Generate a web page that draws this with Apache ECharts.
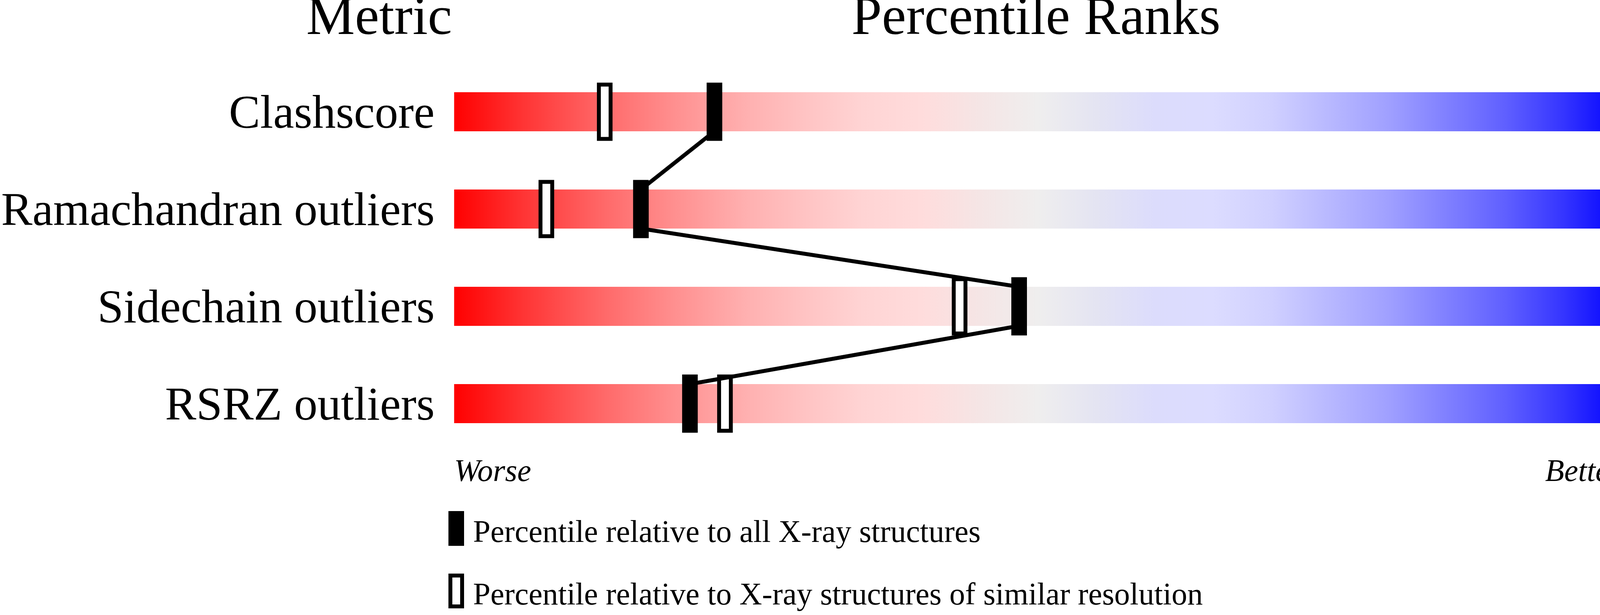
<!DOCTYPE html>
<html lang="en">
<head>
  <meta charset="UTF-8">
  <script src="https://cdn.jsdelivr.net/npm/echarts@6/dist/echarts.min.js"></script>
  <title>Percentile Ranks</title>
  <style>
    * { margin: 0; padding: 0; }
    html, body { width: 100%; height: 100%; background: #fff; }
    #chart { width: 4485px; height: 1574px; }
  </style>
</head>
<body>
<div id="chart"></div>
<script>
  // metrics and their values
  var metrics = ['Clashscore', 'Ramachandran outliers', 'Sidechain outliers', 'RSRZ outliers'];
  var metricValues = ['11', '0.8%', '2.0%', '7.5%'];
  // percentile ranks (0 = worse, 100 = better)
  var pctAll = [22.3, 16.0, 48.4, 20.2];
  var pctSimilar = [12.9, 7.9, 43.3, 23.2];
  var barFull = [100, 100, 100, 100];
  var endLabels = ['Worse', 'Better'];
  var legendNames = [
    'Percentile relative to all X-ray structures',
    'Percentile relative to X-ray structures of similar resolution'
  ];

  var FONT = "'Liberation Serif', 'Times New Roman', serif";

  // line segments between consecutive "all" markers
  var linkData = [];
  for (var i = 0; i < pctAll.length - 1; i++) {
    linkData.push([pctAll[i], i, pctAll[i + 1], i + 1]);
  }

  var slider = new echarts.graphic.LinearGradient(0, 0, 1, 0, [
    { offset: 0, color: '#ff0000' },
    { offset: 0.06, color: '#ff3535' },
    { offset: 0.13, color: '#ff6a6a' },
    { offset: 0.19, color: '#ff9090' },
    { offset: 0.25, color: '#ffb0b0' },
    { offset: 0.3, color: '#ffc3c3' },
    { offset: 0.35, color: '#ffd4d4' },
    { offset: 0.4, color: '#ffdcdc' },
    { offset: 0.45, color: '#f5e5e5' },
    { offset: 0.5, color: '#efeeee' },
    { offset: 0.55, color: '#e4e4f2' },
    { offset: 0.6, color: '#dcdcfc' },
    { offset: 0.65, color: '#dcdcff' },
    { offset: 0.7, color: '#d0d0ff' },
    { offset: 0.75, color: '#b8b8ff' },
    { offset: 0.8, color: '#a0a0ff' },
    { offset: 0.85, color: '#8080ff' },
    { offset: 0.9, color: '#6060ff' },
    { offset: 0.95, color: '#3535ff' },
    { offset: 1, color: '#0000ff' }
  ]);

  var chart = echarts.init(document.getElementById('chart'));

  var option = {
    backgroundColor: '#fff',
    animation: false,
    grid: { left: 1153, right: 334, top: 161.5, bottom: 416.5 },
    graphic: [
      { type: 'text', x: 784, y: 50,
        style: { text: 'Metric', fontSize: 140, fontFamily: FONT, fill: '#000',
                 align: 'left', verticalAlign: 'middle', textAlign: 'left', textVerticalAlign: 'middle' } },
      { type: 'text', x: 2652, y: 50,
        style: { text: 'Percentile Ranks', fontSize: 140, fontFamily: FONT, fill: '#000',
                 align: 'center', verticalAlign: 'middle', textAlign: 'center', textVerticalAlign: 'middle' } },
      { type: 'text', x: 4153, y: 50,
        style: { text: 'Value', fontSize: 140, fontFamily: FONT, fill: '#000',
                 align: 'left', verticalAlign: 'middle', textAlign: 'left', textVerticalAlign: 'middle' } }
    ],
    legend: {
      orient: 'vertical',
      left: 1148,
      top: 1308,
      padding: 0,
      itemWidth: 40,
      itemHeight: 89,
      itemGap: 62,
      selectedMode: false,
      formatter: function (name) { return '{s| }{t|' + name + '}'; },
      textStyle: {
        color: '#000',
        rich: {
          s: { width: 18, lineHeight: 107, fontSize: 80, fontFamily: FONT },
          t: { fontSize: 80, lineHeight: 80, fontFamily: FONT, color: '#000', verticalAlign: 'bottom' }
        }
      },
      data: [
        { name: legendNames[0], icon: 'rect', itemStyle: { color: '#000', borderWidth: 0 } },
        { name: legendNames[1], icon: 'path://M0,0H40V89H0Z M10,10V79H30V10Z',
          itemStyle: { color: '#000', borderWidth: 0 } }
      ]
    },
    xAxis: {
      type: 'value',
      min: 0,
      max: 100,
      interval: 100,
      splitLine: { show: false },
      axisLine: { show: false },
      axisTick: { show: false },
      axisLabel: {
        formatter: function (v) { return v === 0 ? endLabels[0] : endLabels[1]; },
        fontStyle: 'italic',
        fontSize: 80,
        fontFamily: FONT,
        color: '#000',
        margin: 12,
        alignMinLabel: 'left',
        alignMaxLabel: 'right'
      }
    },
    yAxis: [
      {
        type: 'category',
        data: metrics,
        inverse: true,
        axisLine: { show: false },
        axisTick: { show: false },
        splitLine: { show: false },
        axisLabel: { fontSize: 120, fontFamily: FONT, color: '#000', margin: 50,
                     verticalAlign: 'top', lineHeight: 19 }
      },
      {
        type: 'category',
        data: metricValues,
        inverse: true,
        position: 'right',
        axisLine: { show: false },
        axisTick: { show: false },
        splitLine: { show: false },
        axisLabel: { fontSize: 120, fontFamily: FONT, color: '#000', margin: 50,
                     verticalAlign: 'top', lineHeight: 19 }
      }
    ],
    series: [
      {
        type: 'bar',
        name: 'slider',
        data: barFull,
        barWidth: 100,
        silent: true,
        itemStyle: { color: slider },
        z: 1
      },
      {
        type: 'custom',
        name: legendNames[1],
        data: pctSimilar.map(function (v, i) { return [v, i]; }),
        itemStyle: { color: '#000' },
        z: 3,
        renderItem: function (params, api) {
          var p = api.coord([api.value(0), api.value(1)]);
          return {
            type: 'rect',
            shape: { x: p[0] - 15, y: p[1] - 69.5, width: 30, height: 139 },
            style: { fill: '#fff', stroke: '#000', lineWidth: 10 }
          };
        }
      },
      {
        type: 'custom',
        name: 'link',
        data: linkData,
        z: 4,
        silent: true,
        renderItem: function (params, api) {
          var a = api.coord([api.value(0), api.value(1)]);
          var b = api.coord([api.value(2), api.value(3)]);
          return {
            type: 'line',
            shape: { x1: a[0], y1: a[1] + 50, x2: b[0], y2: b[1] - 50 },
            style: { stroke: '#000', lineWidth: 10 }
          };
        }
      },
      {
        type: 'custom',
        name: legendNames[0],
        data: pctAll.map(function (v, i) { return [v, i]; }),
        itemStyle: { color: '#000' },
        z: 5,
        renderItem: function (params, api) {
          var p = api.coord([api.value(0), api.value(1)]);
          return {
            type: 'rect',
            shape: { x: p[0] - 20, y: p[1] - 74.5, width: 40, height: 149 },
            style: { fill: '#000' }
          };
        }
      }
    ]
  };

  chart.setOption(option);
</script>
</body>
</html>
